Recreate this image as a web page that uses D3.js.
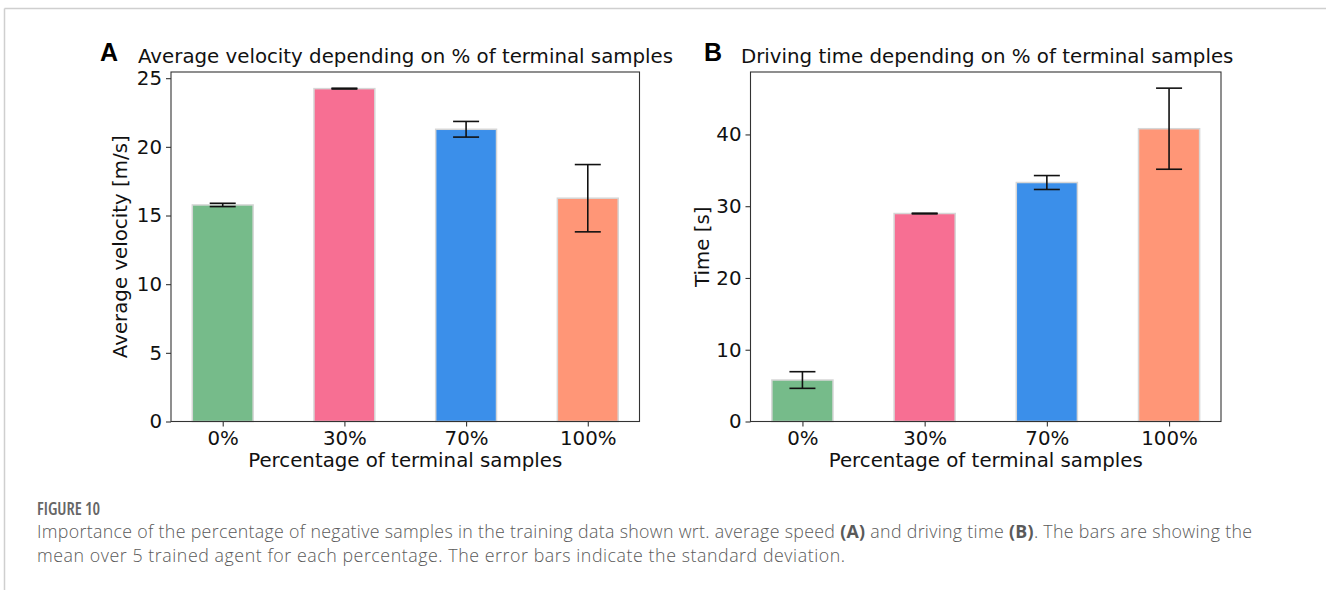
<!DOCTYPE html>
<html><head><meta charset="utf-8">
<script src="https://cdn.jsdelivr.net/npm/d3@7"></script>
<style>body{margin:0;background:#fff;} svg{display:block;}</style>
</head><body>
<svg id="c" width="1326" height="590"></svg>
<script>
const categories = ["0%", "30%", "70%", "100%"];
const colors = ["#76bb8a", "#f76f93", "#3b8fea", "#ff9677"];
const velocityMean = [15.77, 24.24, 21.28, 16.26];
const velocityStd = [0.12, 0.03, 0.57, 2.45];
const timeMean = [5.78, 28.98, 33.3, 40.8];
const timeStd = [1.16, 0.05, 0.97, 5.65];
const velocityTicks = [0, 5, 10, 15, 20, 25];
const timeTicks = [0, 10, 20, 30, 40];

const svg = d3.select("#c");
const font = "DejaVu Sans";
const fs = "19.8px";

// outer frame
svg.append("line").attr("x1",4.5).attr("x2",1326).attr("y1",8.5).attr("y2",8.5).attr("stroke","#cfcfcf").attr("stroke-width",1.5);
svg.append("line").attr("x1",4.5).attr("x2",4.5).attr("y1",8.5).attr("y2",590).attr("stroke","#cfcfcf").attr("stroke-width",1.5);

svg.append("clipPath").attr("id","clipChart").append("rect").attr("x",0).attr("y",0).attr("width",1326).attr("height",471);
const chart = svg.append("g").attr("clip-path","url(#clipChart)");

function panel(cfg){
  const g = chart.append("g");
  const x = d3.scaleLinear().domain([-0.425, 3.425]).range([cfg.left, cfg.right]);
  const y = d3.scaleLinear().domain([0, cfg.ymax]).range([cfg.bottom, cfg.top]);
  const bw = x(0.25) - x(0);
  g.selectAll("rect.bar").data(cfg.mean).enter().append("rect")
    .attr("x",(d,i)=>x(i)-bw).attr("width",2*bw)
    .attr("y",d=>y(d)).attr("height",d=>y(0)-y(d))
    .attr("fill",(d,i)=>colors[i]).attr("stroke","#d6d6d6").attr("stroke-width",1.5);
  const eg = g.append("g").attr("stroke","#111").attr("stroke-width",1.6);
  cfg.mean.forEach((m,i)=>{
    const s = cfg.std[i], cx = x(i);
    eg.append("line").attr("x1",cx).attr("x2",cx).attr("y1",y(m-s)).attr("y2",y(m+s));
    eg.append("line").attr("x1",cx-13).attr("x2",cx+13).attr("y1",y(m-s)).attr("y2",y(m-s));
    eg.append("line").attr("x1",cx-13).attr("x2",cx+13).attr("y1",y(m+s)).attr("y2",y(m+s));
  });
  const ya = d3.axisLeft(y).tickValues(cfg.ticks).tickSize(5).tickPadding(4).tickFormat(d3.format("d"));
  const ag = g.append("g").attr("transform",`translate(${cfg.left},0)`).call(ya);
  const xa = d3.axisBottom(x).tickValues([0,1,2,3]).tickSize(5).tickPadding(4).tickFormat(i=>categories[i]);
  const bg = g.append("g").attr("transform",`translate(0,${cfg.bottom})`).call(xa);
  [ag,bg].forEach(a=>{
    a.select(".domain").remove();
    a.selectAll("line").attr("stroke","#333").attr("stroke-width",1.1);
    a.selectAll("text").attr("font-family",font).attr("font-size",fs).attr("fill","#111");
  });
  g.append("rect").attr("x",cfg.left).attr("y",cfg.top).attr("width",cfg.right-cfg.left).attr("height",cfg.bottom-cfg.top)
    .attr("fill","none").attr("stroke","#333").attr("stroke-width",1.1);
  g.append("text").attr("x",(cfg.left+cfg.right)/2).attr("y",467).attr("text-anchor","middle")
    .attr("font-family",font).attr("font-size",fs).attr("fill","#111").text("Percentage of terminal samples");
  g.append("text").attr("transform",`translate(${cfg.ylabX},${(cfg.top+cfg.bottom)/2}) rotate(-90)`).attr("text-anchor","middle")
    .attr("font-family",font).attr("font-size",fs).attr("fill","#111").text(cfg.ylabel);
  g.append("text").attr("x",cfg.titleX).attr("y",63).attr("font-family",font).attr("font-size",fs).attr("fill","#111").text(cfg.title);
  g.append("text").attr("x",cfg.letterX).attr("y",61).attr("font-family","Liberation Sans").attr("font-weight","bold").attr("font-size","25px").attr("fill","#000").text(cfg.letter);
}

panel({left:171, right:639.5, top:72, bottom:421.5, ymax:25.45, mean:velocityMean, std:velocityStd, ticks:velocityTicks,
  ylabel:"Average velocity [m/s]", ylabX:127, title:"Average velocity depending on % of terminal samples", titleX:138, letter:"A", letterX:100});
panel({left:750.5, right:1221, top:72, bottom:421.5, ymax:48.7, mean:timeMean, std:timeStd, ticks:timeTicks,
  ylabel:"Time [s]", ylabX:709, title:"Driving time depending on % of terminal samples", titleX:741, letter:"B", letterX:704});

// caption
const cap = svg.append("g").attr("font-family","Open Sans").attr("fill","#5a5a5a");
cap.append("text").attr("x",37).attr("y",515).attr("font-size","17px").attr("font-weight","600").attr("fill","#666")
  .attr("font-stretch","condensed").text("FIGURE 10");
const l1 = cap.append("text").attr("x",37).attr("y",538).attr("font-size","17.8px").attr("font-weight","300")
  .attr("textLength",1215).attr("lengthAdjust","spacing");
l1.append("tspan").text("Importance of the percentage of negative samples in the training data shown wrt. average speed ");
l1.append("tspan").attr("font-weight","bold").text("(A)");
l1.append("tspan").text(" and driving time ");
l1.append("tspan").attr("font-weight","bold").text("(B)");
l1.append("tspan").text(". The bars are showing the");
cap.append("text").attr("x",37).attr("y",562).attr("font-size","17.8px").attr("font-weight","300")
  .attr("textLength",808).attr("lengthAdjust","spacing")
  .text("mean over 5 trained agent for each percentage. The error bars indicate the standard deviation.");
</script>
</body></html>
